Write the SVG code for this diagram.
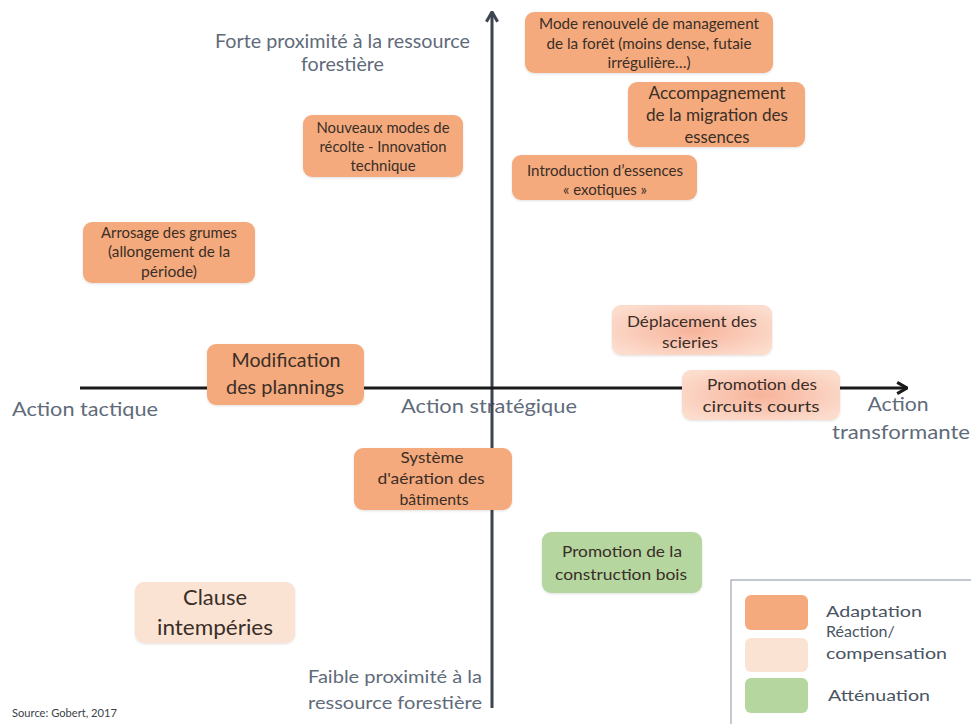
<svg xmlns="http://www.w3.org/2000/svg" width="971" height="724" viewBox="0 0 971 724">
<defs>
<style>
.t{font-family:Lato,"Open Sans","Liberation Sans",sans-serif;text-anchor:middle;fill:#3a2e28}
.ax{font-family:Lato,"Open Sans","Liberation Sans",sans-serif;fill:#5f6b7a}
.lg{font-family:Lato,"Open Sans","Liberation Sans",sans-serif;fill:#4a5462;font-size:16px}
.or{fill:#f4aa7c}
.pk{fill:#fbe3d4}
.gr{fill:#b5d69f}
.gd{fill:url(#pg)}
.bx{filter:url(#sh)}
</style>
<radialGradient id="pg" cx="50%" cy="50%" r="60%">
<stop offset="0" stop-color="#f7b39a"/>
<stop offset="1" stop-color="#fcdccd"/>
</radialGradient>
<filter id="sh" x="-10%" y="-10%" width="120%" height="130%">
<feDropShadow dx="0" dy="1" stdDeviation="1.2" flood-color="#000" flood-opacity="0.12"/>
</filter>
<marker id="ahv" viewBox="0 0 10 10" refX="9" refY="5" markerWidth="14" markerHeight="14" markerUnits="userSpaceOnUse" orient="auto">
<path d="M2,1 L9,5 L2,9" fill="none" stroke="#3d4451" stroke-width="2.2"/>
</marker>
<marker id="ahh" viewBox="0 0 10 10" refX="9" refY="5" markerWidth="14" markerHeight="14" markerUnits="userSpaceOnUse" orient="auto">
<path d="M2,1 L9,5 L2,9" fill="none" stroke="#1a1a1a" stroke-width="2.2"/>
</marker>
</defs>
<rect width="971" height="724" fill="#ffffff"/>

<g id="axis-labels">
<text class="ax" font-size="19" text-anchor="middle"><tspan x="342.5" y="48" textLength="255" lengthAdjust="spacingAndGlyphs">Forte proximité à la ressource</tspan><tspan x="342.5" y="71" textLength="83" lengthAdjust="spacingAndGlyphs">forestière</tspan></text>
<text class="ax" font-size="19" x="12" y="416" textLength="146" lengthAdjust="spacingAndGlyphs">Action tactique</text>
<text class="ax" font-size="19" x="401" y="413" textLength="176" lengthAdjust="spacingAndGlyphs">Action stratégique</text>
<text class="ax" font-size="19" text-anchor="middle"><tspan x="898" y="411" textLength="61" lengthAdjust="spacingAndGlyphs">Action</tspan><tspan x="901" y="439" textLength="138" lengthAdjust="spacingAndGlyphs">transformante</tspan></text>
<text class="ax" font-size="18" text-anchor="end"><tspan x="482" y="683" textLength="174" lengthAdjust="spacingAndGlyphs">Faible proximité à la</tspan><tspan x="482" y="709" textLength="174" lengthAdjust="spacingAndGlyphs">ressource forestière</tspan></text>
<text class="ax" font-size="11" x="12" y="717" textLength="105" lengthAdjust="spacingAndGlyphs" style="fill:#3a3f47">Source: Gobert, 2017</text>
</g>

<g id="connectors">
<line x1="492" y1="708" x2="492" y2="12" stroke="#3d4451" stroke-width="3" marker-end="url(#ahv)"/>
<line x1="80" y1="388" x2="907" y2="388" stroke="#1a1a1a" stroke-width="3" marker-end="url(#ahh)"/>
</g>

<g id="n-mode">
<rect class="or bx" x="525" y="12" width="248" height="61" rx="9"/>
<text class="t" font-size="15"><tspan x="649" y="29" textLength="220" lengthAdjust="spacingAndGlyphs">Mode renouvelé de management</tspan><tspan x="649" y="49" textLength="205" lengthAdjust="spacingAndGlyphs">de la forêt (moins dense, futaie</tspan><tspan x="649" y="68" textLength="83" lengthAdjust="spacingAndGlyphs">irrégulière…)</tspan></text>
</g>

<g id="n-accomp">
<rect class="or bx" x="628" y="82" width="177" height="65" rx="9"/>
<text class="t" font-size="17"><tspan x="717" y="99" textLength="137" lengthAdjust="spacingAndGlyphs">Accompagnement</tspan><tspan x="717" y="121" textLength="142" lengthAdjust="spacingAndGlyphs">de la migration des</tspan><tspan x="717" y="143" textLength="65" lengthAdjust="spacingAndGlyphs">essences</tspan></text>
</g>

<g id="n-intro">
<rect class="or bx" x="512" y="155" width="185" height="45" rx="9"/>
<text class="t" font-size="15"><tspan x="605" y="176" textLength="156" lengthAdjust="spacingAndGlyphs">Introduction d’essences</tspan><tspan x="605" y="195" textLength="84" lengthAdjust="spacingAndGlyphs">« exotiques »</tspan></text>
</g>

<g id="n-nouveaux">
<rect class="or bx" x="303" y="115" width="160" height="62" rx="9"/>
<text class="t" font-size="15"><tspan x="383" y="133" textLength="133" lengthAdjust="spacingAndGlyphs">Nouveaux modes de</tspan><tspan x="383" y="152" textLength="127" lengthAdjust="spacingAndGlyphs">récolte - Innovation</tspan><tspan x="383" y="171" textLength="65" lengthAdjust="spacingAndGlyphs">technique</tspan></text>
</g>

<g id="n-arrosage">
<rect class="or bx" x="83" y="222" width="172" height="61" rx="9"/>
<text class="t" font-size="15"><tspan x="169" y="238" textLength="136" lengthAdjust="spacingAndGlyphs">Arrosage des grumes</tspan><tspan x="169" y="257" textLength="122" lengthAdjust="spacingAndGlyphs">(allongement de la</tspan><tspan x="169" y="277" textLength="56" lengthAdjust="spacingAndGlyphs">période)</tspan></text>
</g>

<g id="n-deplacement">
<rect class="gd bx" x="612" y="305" width="160" height="50" rx="9"/>
<text class="t" font-size="16"><tspan x="692" y="327" textLength="130" lengthAdjust="spacingAndGlyphs">Déplacement  des</tspan><tspan x="690" y="348" textLength="56" lengthAdjust="spacingAndGlyphs">scieries</tspan></text>
</g>

<g id="n-modification">
<rect class="or bx" x="207" y="344" width="157" height="61" rx="9"/>
<text class="t" font-size="19"><tspan x="286" y="367" textLength="109" lengthAdjust="spacingAndGlyphs">Modification</tspan><tspan x="285" y="394" textLength="118" lengthAdjust="spacingAndGlyphs">des plannings</tspan></text>
</g>

<g id="n-circuits">
<rect class="gd bx" x="682" y="370" width="158" height="50" rx="9"/>
<text class="t" font-size="16"><tspan x="762" y="390" textLength="110" lengthAdjust="spacingAndGlyphs">Promotion des</tspan><tspan x="761" y="412" textLength="117" lengthAdjust="spacingAndGlyphs">circuits courts</tspan></text>
</g>

<g id="n-systeme">
<rect class="or bx" x="354" y="448" width="158" height="62" rx="9"/>
<text class="t" font-size="15"><tspan x="432" y="463" textLength="63" lengthAdjust="spacingAndGlyphs">Système</tspan><tspan x="431" y="484" textLength="107" lengthAdjust="spacingAndGlyphs">d'aération des</tspan><tspan x="434" y="505" textLength="69" lengthAdjust="spacingAndGlyphs">bâtiments</tspan></text>
</g>

<g id="n-construction">
<rect class="gr bx" x="542" y="532" width="160" height="61" rx="9"/>
<text class="t" font-size="16"><tspan x="622" y="557" textLength="120" lengthAdjust="spacingAndGlyphs">Promotion de la</tspan><tspan x="621" y="580" textLength="132" lengthAdjust="spacingAndGlyphs">construction bois</tspan></text>
</g>

<g id="n-clause">
<rect class="pk bx" x="135" y="582" width="160" height="61" rx="9"/>
<text class="t" font-size="21"><tspan x="215" y="605" textLength="64" lengthAdjust="spacingAndGlyphs">Clause</tspan><tspan x="215" y="635" textLength="116" lengthAdjust="spacingAndGlyphs">intempéries</tspan></text>
</g>

<g id="legend">
<rect x="731" y="580" width="260" height="160" fill="#ffffff" stroke="#8a939f" stroke-width="1"/>
<rect x="745" y="595" width="63" height="35" rx="6" fill="#f4aa7c"/>
<rect x="745" y="638" width="63" height="34" rx="6" fill="#fbe3d4"/>
<rect x="745" y="678" width="63" height="35" rx="6" fill="#b5d69f"/>
<text class="lg" x="826" y="617" textLength="96" lengthAdjust="spacingAndGlyphs">Adaptation</text>
<text class="lg" x="826" y="637">Réaction/</text>
<text class="lg" x="826" y="659" textLength="121" lengthAdjust="spacingAndGlyphs">compensation</text>
<text class="lg" x="828" y="701" textLength="102" lengthAdjust="spacingAndGlyphs">Atténuation</text>
</g>
</svg>
